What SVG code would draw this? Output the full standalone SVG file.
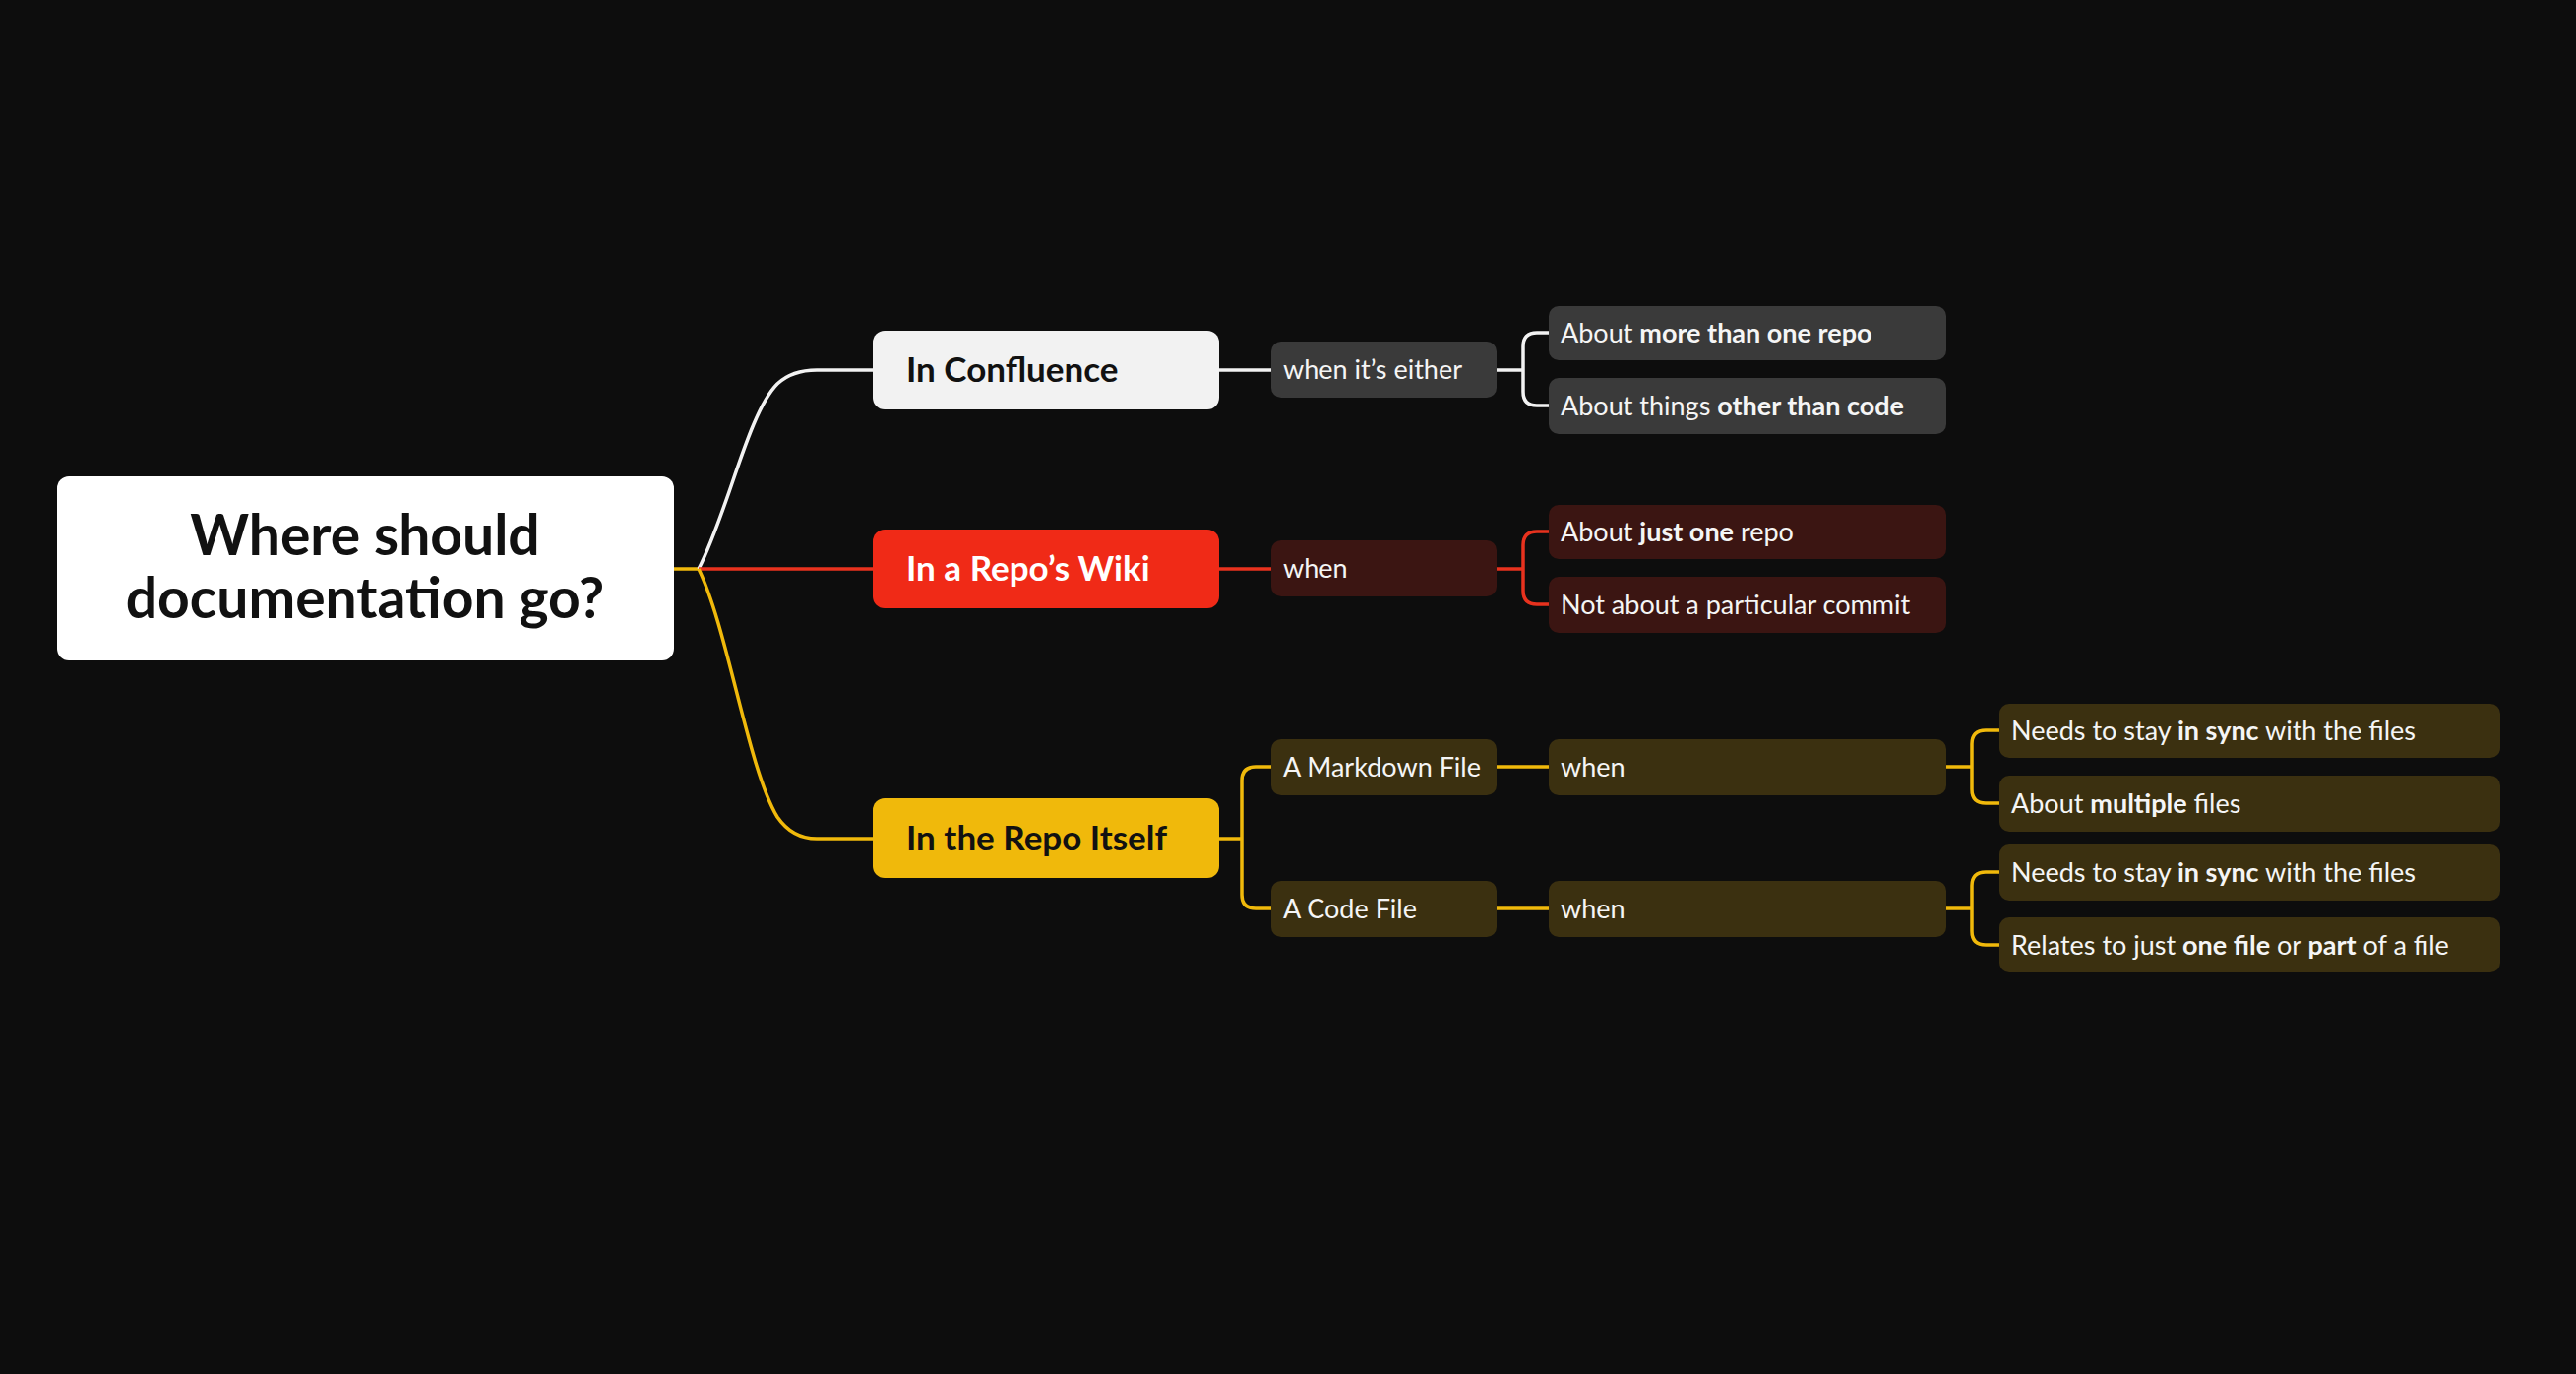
<svg xmlns="http://www.w3.org/2000/svg" width="2618" height="1396" viewBox="0 0 2618 1396">
<style>
text{font-family:Lato,"Noto Sans",sans-serif;}
.l{fill:none;stroke-width:3.5}
.w{stroke:#f2f2f2}.r{stroke:#e8321e}.y{stroke:#f0b90b}
.t{font-size:27px;fill:#f5f5f5}
.b{font-weight:700}
.h{font-size:35px;font-weight:700}
</style>
<rect width="2618" height="1396" fill="#0d0d0d"/>
<g id="connectors">
<path class="l y" d="M685 578H710"/>
<path class="l w" d="M710 578C740 520 760 420 790 390Q805 376 830 376H887"/>
<path class="l r" d="M710 578H887"/>
<path class="l y" d="M710 578C740 640 760 780 790 830Q805 852 830 852H887"/>
<path class="l w" d="M1239 376H1292M1521 376H1548"/>
<path class="l w" d="M1574 338H1562Q1548 338 1548 352V398Q1548 412 1562 412H1574"/>
<path class="l r" d="M1239 578H1292M1521 578H1548"/>
<path class="l r" d="M1574 540H1562Q1548 540 1548 554V600Q1548 614 1562 614H1574"/>
<path class="l y" d="M1239 852H1262"/>
<path class="l y" d="M1292 779H1276Q1262 779 1262 793V909Q1262 923 1276 923H1292"/>
<path class="l y" d="M1521 779H1574M1521 923H1574"/>
<path class="l y" d="M1978 779H2004M1978 923H2004"/>
<path class="l y" d="M2032 742H2018Q2004 742 2004 756V802Q2004 816 2018 816H2032"/>
<path class="l y" d="M2032 886H2018Q2004 886 2004 900V946Q2004 960 2018 960H2032"/>
</g>
<g id="root"><rect x="58" y="484" width="627" height="187" rx="12" fill="#fff"/>
<text x="371" y="564" font-size="57" font-weight="700" text-anchor="middle" fill="#111">Where should</text>
<text x="371" y="628" font-size="57" font-weight="700" text-anchor="middle" fill="#111">documentation go?</text></g>
<g id="confluence"><rect x="887" y="336" width="352" height="80" rx="12" fill="#f2f2f2"/><text class="h" x="921" y="388" fill="#111">In Confluence</text></g>
<g id="wiki"><rect x="887" y="538" width="352" height="80" rx="12" fill="#f02a17"/><text class="h" x="921" y="590" fill="#fff">In a Repo’s Wiki</text></g>
<g id="repo"><rect x="887" y="811" width="352" height="81" rx="12" fill="#f0b90b"/><text class="h" x="921" y="864" fill="#111">In the Repo Itself</text></g>
<g id="either"><rect x="1292" y="347" width="229" height="57" rx="10" fill="#3a3a3a"/><text class="t" x="1304" y="385">when it’s either</text></g>
<g id="c1"><rect x="1574" y="311" width="404" height="55" rx="10" fill="#3a3a3a"/><text class="t" x="1586" y="348">About <tspan class="b">more than one repo</tspan></text></g>
<g id="c2"><rect x="1574" y="384" width="404" height="57" rx="10" fill="#3a3a3a"/><text class="t" x="1586" y="422">About things <tspan class="b">other than code</tspan></text></g>
<g id="wwhen"><rect x="1292" y="549" width="229" height="57" rx="10" fill="#3b1512"/><text class="t" x="1304" y="587">when</text></g>
<g id="w1"><rect x="1574" y="513" width="404" height="55" rx="10" fill="#3b1512"/><text class="t" x="1586" y="550">About <tspan class="b">just one</tspan> repo</text></g>
<g id="w2"><rect x="1574" y="586" width="404" height="57" rx="10" fill="#3b1512"/><text class="t" x="1586" y="624">Not about a particular commit</text></g>
<g id="md"><rect x="1292" y="751" width="229" height="57" rx="10" fill="#3b3010"/><text class="t" x="1304" y="789">A Markdown File</text></g>
<g id="code"><rect x="1292" y="895" width="229" height="57" rx="10" fill="#3b3010"/><text class="t" x="1304" y="933">A Code File</text></g>
<g id="mdwhen"><rect x="1574" y="751" width="404" height="57" rx="10" fill="#3b3010"/><text class="t" x="1586" y="789">when</text></g>
<g id="codewhen"><rect x="1574" y="895" width="404" height="57" rx="10" fill="#3b3010"/><text class="t" x="1586" y="933">when</text></g>
<g id="m1"><rect x="2032" y="715" width="509" height="55" rx="10" fill="#3b3010"/><text class="t" x="2044" y="752">Needs to stay <tspan class="b">in sync</tspan> with the files</text></g>
<g id="m2"><rect x="2032" y="788" width="509" height="57" rx="10" fill="#3b3010"/><text class="t" x="2044" y="826">About <tspan class="b">multiple</tspan> files</text></g>
<g id="k1"><rect x="2032" y="858" width="509" height="57" rx="10" fill="#3b3010"/><text class="t" x="2044" y="896">Needs to stay <tspan class="b">in sync</tspan> with the files</text></g>
<g id="k2"><rect x="2032" y="932" width="509" height="56" rx="10" fill="#3b3010"/><text class="t" x="2044" y="970">Relates to just <tspan class="b">one file</tspan> or <tspan class="b">part</tspan> of a file</text></g>
</svg>
